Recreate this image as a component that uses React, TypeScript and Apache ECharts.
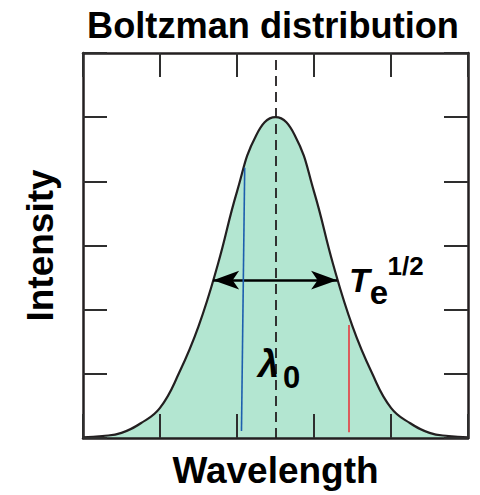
import React, { useEffect, useRef } from "react";
import * as echarts from "echarts";

// Emission line profile sampled along the wavelength axis
const wavelength = [
  0, 0.25, 0.5, 0.75, 1, 1.25, 1.5, 1.75, 2, 2.25, 2.5,
  2.75, 3, 3.25, 3.5, 3.75, 4, 4.25, 4.5, 4.75, 5,
];
const intensity = [
  0.01, 0.03, 0.08, 0.23, 0.47, 1.02, 1.74, 2.7, 3.84, 4.72, 5.0,
  4.72, 3.84, 2.7, 1.74, 1.02, 0.47, 0.23, 0.08, 0.03, 0.01,
];

// Line centre and the width marker at half maximum
const centreWavelength = 2.5;
const halfMaxLevel = 2.46;
const halfMaxEdges = [1.69, 3.3];

// Two sample lines under the profile: [top, bottom] as [wavelength, intensity]
const blueLine = [
  [2.1, 4.21],
  [2.058, 0.11],
];
const redLine = [
  [3.45, 1.76],
  [3.45, 0.09],
];

const X_RANGE = [0, 5];
const Y_RANGE = [0, 6];

const FONT = "'Liberation Sans', Arial, Helvetica, sans-serif";
const INK = "#231f20";

function axisBase(min: number, max: number) {
  return {
    type: "value" as const,
    min,
    max,
    interval: 1,
    z: 5,
    axisLine: { show: true, onZero: false, lineStyle: { color: INK, width: 2.5 } },
    axisTick: { show: true, inside: true, length: 24, lineStyle: { color: "#2e2e2e", width: 2 } },
    axisLabel: { show: false },
    splitLine: { show: false },
  };
}

export default function App() {
  const ref = useRef<HTMLDivElement>(null);

  useEffect(() => {
    if (!ref.current) return;
    const chart = echarts.init(ref.current, null, { renderer: "svg" });

    const labelText = (text: string, size: number, italic = false) => ({
      show: true,
      position: "inside",
      formatter: text,
      fontSize: size,
      fontWeight: "bold",
      fontStyle: italic ? "italic" : "normal",
      fontFamily: FONT,
      color: "#000",
      align: "center",
      verticalAlign: "middle",
    });

    chart.setOption({
      animation: false,
      title: {
        text: "Boltzman distribution",
        left: 268,
        top: 2,
        textAlign: "center",
        textStyle: { fontSize: 36.2, fontWeight: "bold", fontFamily: FONT, color: "#000" },
      },
      grid: { left: 83, top: 53, width: 385, height: 385 },
      xAxis: [
        {
          ...axisBase(X_RANGE[0], X_RANGE[1]),
          position: "bottom",
          name: "Wavelength",
          nameLocation: "middle",
          nameGap: 14,
          nameTextStyle: {
            fontSize: 37,
            fontWeight: "bold",
            fontFamily: FONT,
            color: "#000",
            verticalAlign: "top",
          },
        },
        { ...axisBase(X_RANGE[0], X_RANGE[1]), position: "top" },
      ],
      yAxis: [
        {
          ...axisBase(Y_RANGE[0], Y_RANGE[1]),
          position: "left",
          name: "Intensity",
          nameLocation: "middle",
          nameGap: 24,
          nameRotate: 90,
          nameTextStyle: { fontSize: 37, fontWeight: "bold", fontFamily: FONT, color: "#000" },
        },
        { ...axisBase(Y_RANGE[0], Y_RANGE[1]), position: "right" },
      ],
      series: [
        {
          type: "line",
          data: wavelength.map((w, i) => [w, intensity[i]]),
          smooth: 0.45,
          showSymbol: false,
          symbol: "none",
          lineStyle: { color: INK, width: 2.2 },
          areaStyle: { color: "#b3e6d1", opacity: 1 },
          z: 2,
          markLine: {
            silent: true,
            symbol: ["none", "none"],
            label: { show: false },
            data: [
              [
                {
                  coord: [centreWavelength, Y_RANGE[0]],
                  lineStyle: { color: INK, width: 1.8, type: [10, 6] },
                },
                { coord: [centreWavelength, Y_RANGE[1]] },
              ],
              [
                {
                  coord: [halfMaxEdges[0], halfMaxLevel],
                  symbol: "arrow",
                  symbolSize: [14, 26],
                  lineStyle: { color: "#000", width: 2.6, type: "solid" },
                },
                { coord: [halfMaxEdges[1], halfMaxLevel], symbol: "arrow", symbolSize: [14, 26] },
              ],
              [
                { coord: blueLine[0], lineStyle: { color: "#1d5fae", width: 1.6, type: "solid" } },
                { coord: blueLine[1] },
              ],
              [
                { coord: redLine[0], lineStyle: { color: "#e53a3f", width: 1.6, type: "solid" } },
                { coord: redLine[1] },
              ],
            ],
          },
          markPoint: {
            silent: true,
            symbol: "circle",
            symbolSize: 1,
            itemStyle: { color: "rgba(0,0,0,0)" },
            data: [
              // centre wavelength symbol λ with subscript 0
              { coord: [2.409, 1.15], label: labelText("λ", 38, true) },
              { coord: [2.708, 0.94], label: labelText("0", 31) },
              // T_e^{1/2} width annotation
              { coord: [3.59, 2.47], label: labelText("T", 34, true) },
              { coord: [3.844, 2.26], label: labelText("e", 33) },
              { coord: [4.19, 2.673], label: labelText("1/2", 26) },
            ],
          },
        },
      ],
    });

    return () => chart.dispose();
  }, []);

  return (
    <div
      ref={ref}
      style={{ position: "absolute", left: 0, top: 0, width: 480, height: 495, background: "#fff" }}
    />
  );
}
